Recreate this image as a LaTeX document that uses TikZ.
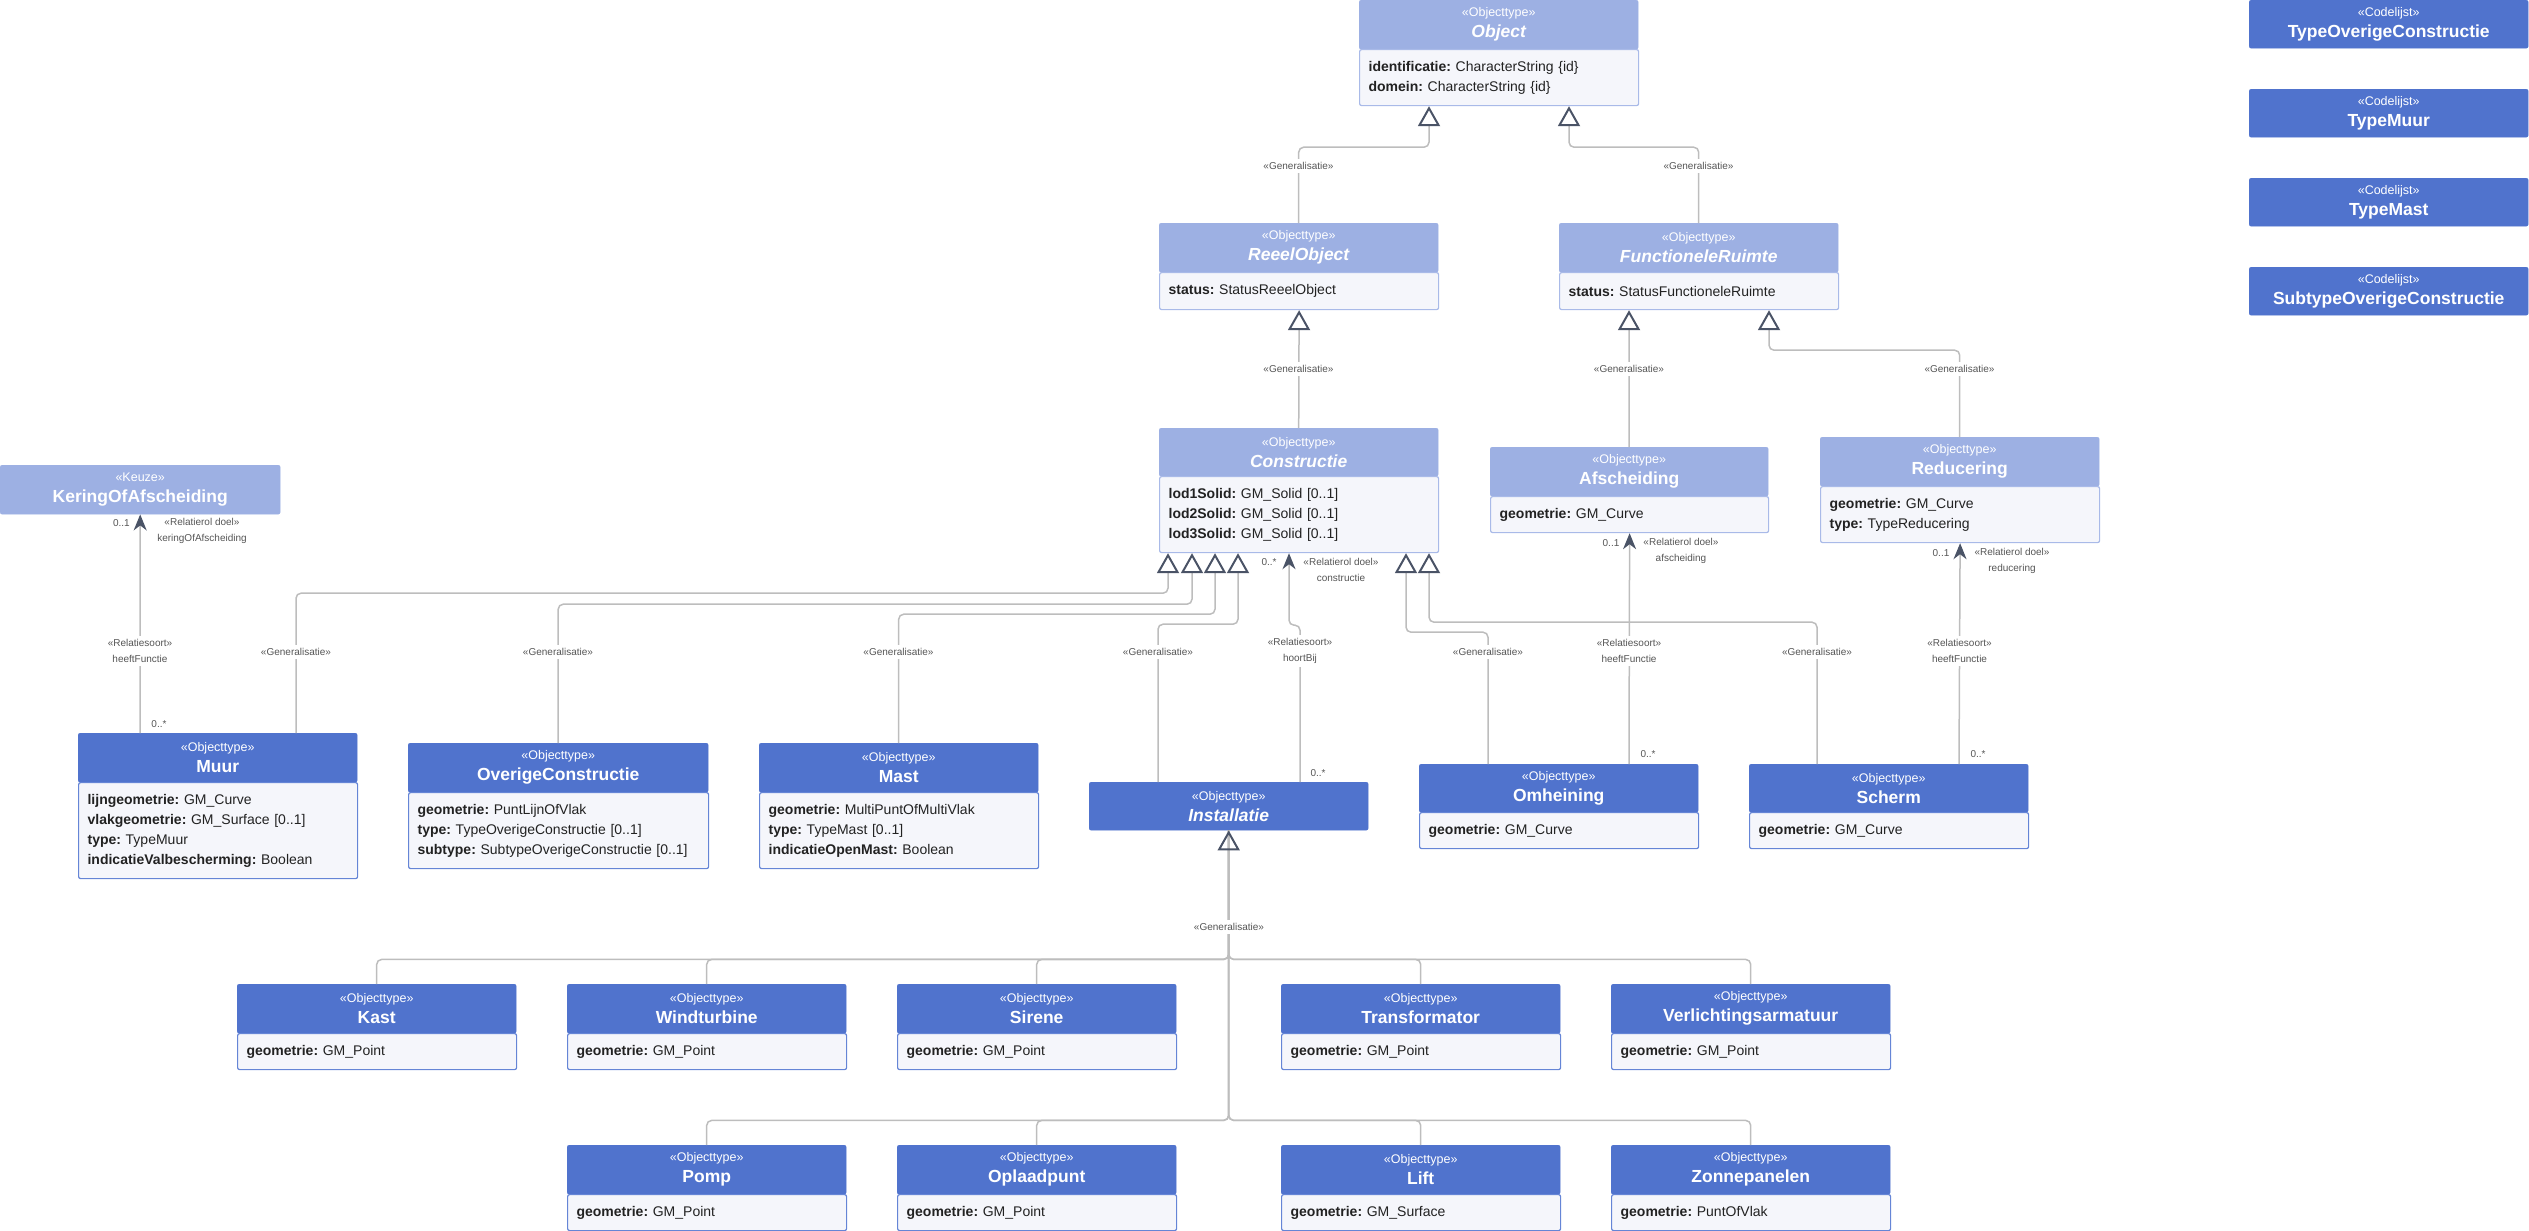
\documentclass[tikz,border=0pt]{standalone}
\usepackage{fontspec}
\setmainfont{Liberation Sans}
\usetikzlibrary{arrows.meta}
\frenchspacing
\definecolor{hlight}{HTML}{9DB0E3}
\definecolor{hdark}{HTML}{5073CD}
\definecolor{bodybg}{HTML}{F5F6FB}
\definecolor{bordL}{HTML}{A9BAE8}
\definecolor{bordD}{HTML}{6585D6}
\definecolor{linegray}{HTML}{BDBDBD}
\definecolor{tricol}{HTML}{4A5366}
\definecolor{lblgray}{HTML}{555555}
\definecolor{txtdark}{HTML}{222222}
\newcommand\umlT[1]{{\fontsize{17.5}{21}\selectfont\bfseries #1}}
\newcommand\umlTi[1]{{\fontsize{17.5}{21}\selectfont\bfseries\itshape #1}}
\newcommand\hdr[7]{\node[#6, minimum width=#4pt, minimum height=#5pt, anchor=north west] (#1-h) at (#2,#3) {#7};}
\newcommand\bdy[8]{\node[#7, minimum width=#4pt, minimum height=#5pt, text width=#6pt, anchor=north west] (#1-b) at (#2,#3) {#8};}
\tikzset{
  hl/.style={fill=hlight, draw=hlight, rounded corners=2pt, text=white, align=center, font=\fontsize{12.5}{21}\selectfont\frenchspacing, inner sep=0pt},
  hd/.style={fill=hdark, draw=hdark, rounded corners=2pt, text=white, align=center, font=\fontsize{12.5}{21}\selectfont\frenchspacing, inner sep=0pt},
  bodyL/.style={fill=bodybg, draw=bordL, line width=1.2pt, rounded corners=2pt, align=left, font=\fontsize{14}{20}\selectfont\frenchspacing, inner xsep=9pt, inner ysep=0pt, text=txtdark},
  bodyD/.style={bodyL, draw=bordD},
  gen/.style={draw=linegray, line width=1.5pt, rounded corners=5pt, -{Triangle[open, length=20pt, width=22pt, line width=2pt, color=tricol]}},
  gentree/.style={draw=linegray, line width=1.5pt, rounded corners=5pt},
  assoc/.style={draw=linegray, line width=1.5pt, rounded corners=5pt, -{Stealth[length=16pt, width=13pt, inset=5pt, color=tricol]}},
  lbl/.style={font=\fontsize{10}{16}\selectfont\frenchspacing, text=lblgray, inner sep=1pt, align=center},
  lblw/.style={lbl, fill=white, inner ysep=3pt}
}
\begin{document}
\begin{tikzpicture}[x=1pt,y=-1pt]
\useasboundingbox (0,0) rectangle (2529,1231);
% ---------- classes ----------
\hdr{Object}{1359}{0}{279}{49}{hl}{«Objecttype»\\\umlTi{Object}}
\bdy{Object}{1359}{49}{279}{56}{261}{bodyL}{\textbf{identificatie:} CharacterString \{id\}\\\textbf{domein:} CharacterString \{id\}}
\hdr{ReeelObject}{1159}{223}{279}{49}{hl}{«Objecttype»\\\umlTi{ReeelObject}}
\bdy{ReeelObject}{1159}{272}{279}{37}{261}{bodyL}{\textbf{status:} StatusReeelObject}
\hdr{FunctioneleRuimte}{1559}{223}{279}{49}{hl}{«Objecttype»\\\umlTi{FunctioneleRuimte}}
\bdy{FunctioneleRuimte}{1559}{272}{279}{37}{261}{bodyL}{\textbf{status:} StatusFunctioneleRuimte}
\hdr{Constructie}{1159}{428}{279}{48}{hl}{«Objecttype»\\\umlTi{Constructie}}
\bdy{Constructie}{1159}{476}{279}{76}{261}{bodyL}{\textbf{lod1Solid:} GM\_Solid [0..1]\\\textbf{lod2Solid:} GM\_Solid [0..1]\\\textbf{lod3Solid:} GM\_Solid [0..1]}
\hdr{Afscheiding}{1490}{447}{278}{49}{hl}{«Objecttype»\\\umlT{Afscheiding}}
\bdy{Afscheiding}{1490}{496}{278}{36}{260}{bodyL}{\textbf{geometrie:} GM\_Curve}
\hdr{Reducering}{1820}{437}{279}{49}{hl}{«Objecttype»\\\umlT{Reducering}}
\bdy{Reducering}{1820}{486}{279}{56}{261}{bodyL}{\textbf{geometrie:} GM\_Curve\\\textbf{type:} TypeReducering}
\hdr{Kering}{0}{465}{280}{49}{hl}{«Keuze»\\\umlT{KeringOfAfscheiding}}
\hdr{Muur}{78}{733}{279}{49}{hd}{«Objecttype»\\\umlT{Muur}}
\bdy{Muur}{78}{782}{279}{96}{261}{bodyD}{\textbf{lijngeometrie:} GM\_Curve\\\textbf{vlakgeometrie:} GM\_Surface [0..1]\\\textbf{type:} TypeMuur\\\textbf{indicatieValbescherming:} Boolean}
\hdr{Overige}{408}{743}{300}{49}{hd}{«Objecttype»\\\umlT{OverigeConstructie}}
\bdy{Overige}{408}{792}{300}{76}{282}{bodyD}{\textbf{geometrie:} PuntLijnOfVlak\\\textbf{type:} TypeOverigeConstructie [0..1]\\\textbf{subtype:} SubtypeOverigeConstructie [0..1]}
\hdr{Mast}{759}{743}{279}{49}{hd}{«Objecttype»\\\umlT{Mast}}
\bdy{Mast}{759}{792}{279}{76}{261}{bodyD}{\textbf{geometrie:} MultiPuntOfMultiVlak\\\textbf{type:} TypeMast [0..1]\\\textbf{indicatieOpenMast:} Boolean}
\hdr{Installatie}{1089}{782}{279}{48}{hd}{«Objecttype»\\\umlTi{Installatie}}
\hdr{Omheining}{1419}{764}{279}{48}{hd}{«Objecttype»\\\umlT{Omheining}}
\bdy{Omheining}{1419}{812}{279}{36}{261}{bodyD}{\textbf{geometrie:} GM\_Curve}
\hdr{Scherm}{1749}{764}{279}{48}{hd}{«Objecttype»\\\umlT{Scherm}}
\bdy{Scherm}{1749}{812}{279}{36}{261}{bodyD}{\textbf{geometrie:} GM\_Curve}
% installatie children, row 1
\hdr{Kast}{237}{984}{279}{49}{hd}{«Objecttype»\\\umlT{Kast}}
\bdy{Kast}{237}{1033}{279}{36}{261}{bodyD}{\textbf{geometrie:} GM\_Point}
\hdr{Windturbine}{567}{984}{279}{49}{hd}{«Objecttype»\\\umlT{Windturbine}}
\bdy{Windturbine}{567}{1033}{279}{36}{261}{bodyD}{\textbf{geometrie:} GM\_Point}
\hdr{Sirene}{897}{984}{279}{49}{hd}{«Objecttype»\\\umlT{Sirene}}
\bdy{Sirene}{897}{1033}{279}{36}{261}{bodyD}{\textbf{geometrie:} GM\_Point}
\hdr{Transformator}{1281}{984}{279}{49}{hd}{«Objecttype»\\\umlT{Transformator}}
\bdy{Transformator}{1281}{1033}{279}{36}{261}{bodyD}{\textbf{geometrie:} GM\_Point}
\hdr{Verlichting}{1611}{984}{279}{49}{hd}{«Objecttype»\\\umlT{Verlichtingsarmatuur}}
\bdy{Verlichting}{1611}{1033}{279}{36}{261}{bodyD}{\textbf{geometrie:} GM\_Point}
% row 2
\hdr{Pomp}{567}{1145}{279}{49}{hd}{«Objecttype»\\\umlT{Pomp}}
\bdy{Pomp}{567}{1194}{279}{36}{261}{bodyD}{\textbf{geometrie:} GM\_Point}
\hdr{Oplaadpunt}{897}{1145}{279}{49}{hd}{«Objecttype»\\\umlT{Oplaadpunt}}
\bdy{Oplaadpunt}{897}{1194}{279}{36}{261}{bodyD}{\textbf{geometrie:} GM\_Point}
\hdr{Lift}{1281}{1145}{279}{49}{hd}{«Objecttype»\\\umlT{Lift}}
\bdy{Lift}{1281}{1194}{279}{36}{261}{bodyD}{\textbf{geometrie:} GM\_Surface}
\hdr{Zonnepanelen}{1611}{1145}{279}{49}{hd}{«Objecttype»\\\umlT{Zonnepanelen}}
\bdy{Zonnepanelen}{1611}{1194}{279}{36}{261}{bodyD}{\textbf{geometrie:} PuntOfVlak}
% codelijsten
\hdr{CL1}{2249}{0}{279}{48}{hd}{«Codelijst»\\\umlT{TypeOverigeConstructie}}
\hdr{CL2}{2249}{89}{279}{48}{hd}{«Codelijst»\\\umlT{TypeMuur}}
\hdr{CL3}{2249}{178}{279}{48}{hd}{«Codelijst»\\\umlT{TypeMast}}
\hdr{CL4}{2249}{267}{279}{48}{hd}{«Codelijst»\\\umlT{SubtypeOverigeConstructie}}
% ---------- generalisations ----------
\draw[gen] (ReeelObject-h.north) |- ([xshift=70pt,yshift=-41pt]Object-b.south west) -- ([xshift=70pt]Object-b.south west);
\draw[gen] (FunctioneleRuimte-h.north) |- ([xshift=210pt,yshift=-41pt]Object-b.south west) -- ([xshift=210pt]Object-b.south west);
\draw[gen] (Constructie-h.north) -- (ReeelObject-b.south);
\draw[gen] (Afscheiding-h.north) -- ([xshift=70pt]FunctioneleRuimte-b.south west);
\draw[gen] (Reducering-h.north) |- ([xshift=210pt,yshift=-40pt]FunctioneleRuimte-b.south west) -- ([xshift=210pt]FunctioneleRuimte-b.south west);
\draw[gen] ([xshift=218pt]Muur-h.north west) |- ([xshift=9pt,yshift=-40pt]Constructie-b.south west) -- ([xshift=9pt]Constructie-b.south west);
\draw[gen] (Overige-h.north) |- ([xshift=33pt,yshift=-51pt]Constructie-b.south west) -- ([xshift=33pt]Constructie-b.south west);
\draw[gen] (Mast-h.north) |- ([xshift=56pt,yshift=-61pt]Constructie-b.south west) -- ([xshift=56pt]Constructie-b.south west);
\draw[gen] ([xshift=69pt]Installatie-h.north west) |- ([xshift=79pt,yshift=-71pt]Constructie-b.south west) -- ([xshift=79pt]Constructie-b.south west);
\draw[gen] ([xshift=69pt]Omheining-h.north west) |- ([xshift=247pt,yshift=-79pt]Constructie-b.south west) -- ([xshift=247pt]Constructie-b.south west);
\draw[gen] ([xshift=68pt]Scherm-h.north west) |- ([xshift=270pt,yshift=-69pt]Constructie-b.south west) -- ([xshift=270pt]Constructie-b.south west);
% installatie tree
\foreach \c in {Kast,Windturbine,Sirene,Transformator,Verlichting}{
  \draw[gentree] (\c-h.north) |- ([yshift=-129pt]Installatie-h.south) -- (Installatie-h.south);
}
\foreach \c in {Pomp,Oplaadpunt,Lift,Zonnepanelen}{
  \draw[gentree] (\c-h.north) |- ([yshift=-290pt]Installatie-h.south) -- (Installatie-h.south);
}
\draw[gen] ([yshift=-129pt]Installatie-h.south) -- (Installatie-h.south);
% ---------- associations ----------
\draw[assoc] ([xshift=62pt]Muur-h.north west) -- (Kering-h.south);
\draw[assoc] ([xshift=211pt]Installatie-h.north west) |- ([xshift=130pt,yshift=-72pt]Constructie-b.south west) -- ([xshift=130pt]Constructie-b.south west);
\draw[assoc] ([xshift=210pt]Omheining-h.north west) -- (Afscheiding-b.south);
\draw[assoc] ([xshift=210pt]Scherm-h.north west) -- (Reducering-b.south);
% ---------- labels ----------
\foreach \n/\x/\y in {g1/1298.5/166, g2/1698.5/166, g3/1298.5/369, g4/1629/369, g5/1959.5/369,
  g6/296/652, g7/558/652, g8/898.5/652, g9/1158/652, g10/1488/652, g11/1817/652, g12/1229/927}{
  \node[lblw] (\n) at (\x,\y) {«Generalisatie»};
}
% Muur -> Kering
\node[lbl, anchor=east] (m01a) at (131,523) {0..1};
\node[lbl] (rda) at (202,531) {«Relatierol doel»\\keringOfAfscheiding};
\node[lblw] (rsa) at (140,651) {«Relatiesoort»\\heeftFunctie};
\node[lbl] (m0na) at (159,724) {0..*};
% Installatie -> Constructie
\node[lbl] (m0nb) at (1269,562) {0..*};
\node[lbl] (rdb) at (1341,570) {«Relatierol doel»\\constructie};
\node[lblw] (rsb) at (1300,651) {«Relatiesoort»\\hoortBij};
\node[lbl] (m0nb2) at (1318,773) {0..*};
% Omheining -> Afscheiding
\node[lbl] (m01c) at (1611,543) {0..1};
\node[lbl] (rdc) at (1681,551) {«Relatierol doel»\\afscheiding};
\node[lblw] (rsc) at (1629,651) {«Relatiesoort»\\heeftFunctie};
\node[lbl] (m0nc) at (1648,754) {0..*};
% Scherm -> Reducering
\node[lbl] (m01d) at (1941,553) {0..1};
\node[lbl] (rdd) at (2012,561) {«Relatierol doel»\\reducering};
\node[lblw] (rsd) at (1959.5,651) {«Relatiesoort»\\heeftFunctie};
\node[lbl] (m0nd) at (1978,754) {0..*};
\end{tikzpicture}
\end{document}
